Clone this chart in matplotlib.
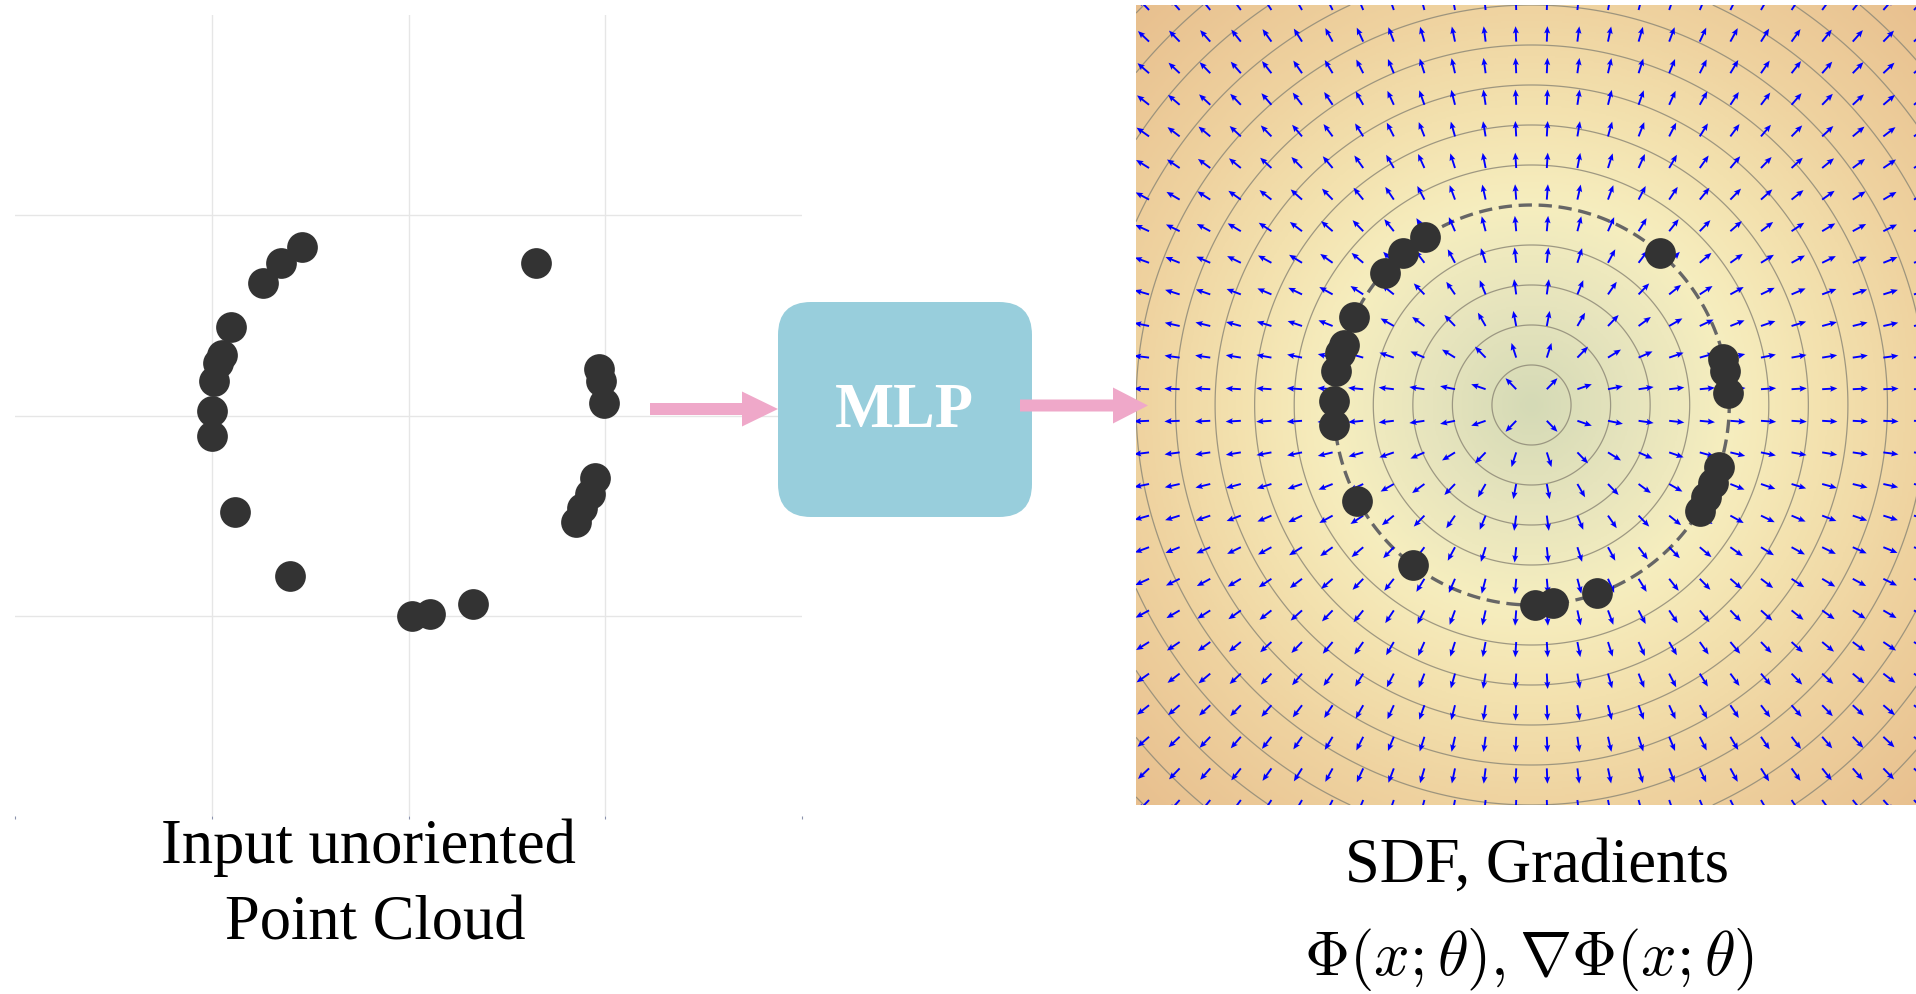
import numpy as np
import matplotlib.pyplot as plt
from matplotlib.colors import LinearSegmentedColormap
from matplotlib.patches import FancyBboxPatch, FancyArrow

plt.rcParams['mathtext.fontset'] = 'cm'
SERIF = 'Liberation Serif'

pts_x = [-0.54, -0.65, -0.74, -0.90, -0.95, -0.97, -0.99, -1.00, -1.00, -0.88, -0.60,
         0.02, 0.11, 0.33, 0.65, 0.97, 0.98, 0.995, 0.95, 0.92, 0.88, 0.85]
pts_y = [0.84, 0.76, 0.66, 0.44, 0.30, 0.26, 0.17, 0.02, -0.10, -0.48, -0.80,
         -1.00, -0.99, -0.94, 0.76, 0.23, 0.17, 0.06, -0.31, -0.39, -0.46, -0.53]

grid_ticks = [-1, 0, 1]
axis_ticks = [-2, -1, 0, 1, 2]

# SDF of the unit circle: contour levels drawn on the right panel
sdf_levels = [-0.8, -0.6, -0.4, -0.2, 0.2, 0.4, 0.6, 0.8, 1.0, 1.2, 1.4, 1.6, 1.8]
zero_level = [0.0]

# background colour ramp (sdf value -> colour)
ramp_vals = [-1.0, -0.5, 0.0, 0.5, 1.0, 1.85]
ramp_cols = ['#d5dab6', '#e6e4bd', '#f6eebf', '#f3e1ae', '#efd3a0', '#e8bf8e']

# gradient arrow grid
qx = np.linspace(-1.934, 1.934, 26)
qy = np.linspace(-1.975, 1.975, 26)

W, H = 1916, 994
fig = plt.figure(figsize=(W / 100, H / 100), dpi=100)

# ---- left: input point cloud
ax1 = fig.add_axes([15 / W, 178 / H, 787 / W, 801 / H])
ax1.set_xlim(-2, 2)
ax1.set_ylim(-2, 2)
for s in ax1.spines.values():
    s.set_visible(False)
ax1.set_xticks(axis_ticks)
ax1.set_yticks([])
ax1.tick_params(axis='x', length=2, color='#8c93ad', labelbottom=False)
for g in grid_ticks:
    ax1.axvline(g, color='#e6e6e6', lw=1, zorder=0)
    ax1.axhline(g, color='#e6e6e6', lw=1, zorder=0)
ax1.scatter(pts_x, pts_y, s=490, color='#333333', linewidths=0, zorder=3)

# ---- right: SDF field and gradients
ax2 = fig.add_axes([1136 / W, 189 / H, 791 / W, 800 / H])
ax2.set_xlim(-2, 2)
ax2.set_ylim(-2, 2)
ax2.axis('off')

span = np.max(ramp_vals) - np.min(ramp_vals)
cmap = LinearSegmentedColormap.from_list(
    'sdf', [((v - ramp_vals[0]) / span, c) for v, c in zip(ramp_vals, ramp_cols)])
g = np.linspace(-2, 2, 500)
GX, GY = np.meshgrid(g, g)
sdf = np.sqrt(GX ** 2 + GY ** 2) - 1.0
ax2.imshow(sdf, extent=[-2, 2, -2, 2], origin='lower', cmap=cmap,
           vmin=ramp_vals[0], vmax=ramp_vals[-1], aspect='auto', zorder=0)
ax2.contour(GX, GY, sdf, levels=sdf_levels, colors='#8f8a78', linewidths=0.9,
            linestyles='solid', negative_linestyles='solid', alpha=0.85, zorder=1)
ax2.contour(GX, GY, sdf, levels=zero_level, colors='#666666', linewidths=2.4,
            linestyles=[(0, (4, 2))], zorder=2)

QX, QY = np.meshgrid(qx, qy)
R = np.sqrt(QX ** 2 + QY ** 2)
ax2.quiver(QX, QY, QX / R, QY / R, color='blue', angles='xy', scale_units='xy',
           scale=13.0, pivot='tail', width=0.0024, headwidth=3.2, headlength=3.8,
           headaxislength=3.3, zorder=3)
ax2.scatter(pts_x, pts_y, s=490, color='#333333', linewidths=0, zorder=4)

# ---- overlay: MLP box, arrows, captions (pixel coordinates)
ov = fig.add_axes([0, 0, 1, 1], zorder=10)
ov.set_xlim(0, W)
ov.set_ylim(H, 0)
ov.axis('off')
ov.patch.set_alpha(0)

pink = '#efa8c9'
ov.add_patch(FancyBboxPatch((778 + 33, 302 + 33), 254 - 66, 215 - 66,
                            boxstyle='round,pad=33', fc='#98cedc', ec='none'))
ov.add_patch(FancyArrow(650, 409, 128, 0, width=12, head_width=35, head_length=36,
                        length_includes_head=True, color=pink, lw=0))
ov.add_patch(FancyArrow(1020, 405.5, 128, 0, width=12, head_width=36, head_length=35,
                        length_includes_head=True, color=pink, lw=0))
ov.text(904, 412, 'MLP', color='white', fontsize=45, fontweight='bold',
        family=SERIF, ha='center', va='center')

ov.text(368, 863, 'Input unoriented', fontsize=45, family=SERIF, ha='center', va='baseline')
ov.text(375, 939, 'Point Cloud', fontsize=45, family=SERIF, ha='center', va='baseline')
ov.text(1537, 882, 'SDF, Gradients', fontsize=45, family=SERIF, ha='center', va='baseline')
ov.text(1529, 975, r'$\Phi(x;\theta), \nabla\Phi(x;\theta)$', fontsize=45,
        ha='center', va='baseline')

fig.savefig('out.png', dpi=100)
